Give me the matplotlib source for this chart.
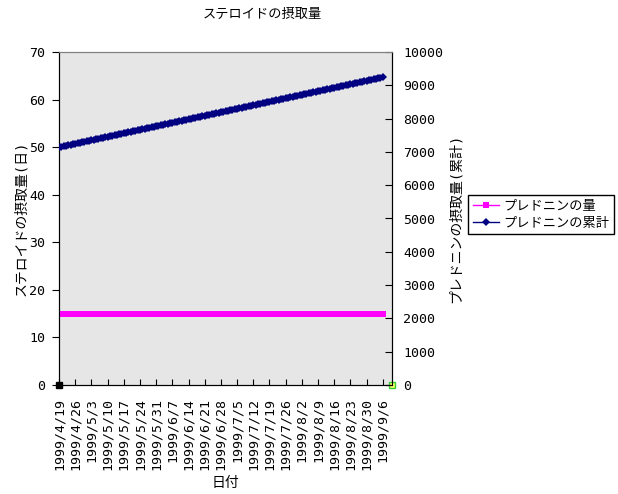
import matplotlib
matplotlib.use("Agg")
import matplotlib.pyplot as plt
from matplotlib.lines import Line2D
import numpy as np
import pandas as pd

plt.rcParams['font.family'] = ['DejaVu Sans Mono', 'Noto Sans CJK JP']

# ---- data ----
dates = pd.date_range('1999-04-19', '1999-09-10', freq='D')      # category axis
date_labels = [f"{d.year}/{d.month}/{d.day}" for d in dates]
daily_amount = [15] * 141                                         # プレドニンの量 (4/19 - 9/6)
cumulative_before = 7125                                          # 累計 before 4/19
cumulative = list(cumulative_before + np.cumsum(daily_amount))    # プレドニンの累計
left_ticks = [0, 10, 20, 30, 40, 50, 60, 70]
right_ticks = [0, 1000, 2000, 3000, 4000, 5000, 6000, 7000, 8000, 9000, 10000]
extra_first = [0]
extra_last = [0]

title = 'ステロイドの摂取量'
xlabel = '日付'
ylabel_left = 'ステロイドの摂取量(日)'
ylabel_right = 'プレドニンの摂取量(累計)'
name_daily = 'プレドニンの量'
name_cum = 'プレドニンの累計'

# ---- figure ----
fig = plt.figure(figsize=(6.18, 4.94), dpi=100)
ax = fig.add_axes([59/618, 1-385/494, (392-59)/618, (385-52)/494])
ax.set_facecolor('#E6E6E6')
ax2 = ax.twinx()

x = np.arange(len(dates))
xd = x[:len(daily_amount)]

ax.plot(xd, daily_amount, color='#FF00FF', marker='s', markersize=4.5,
        linewidth=1, markeredgewidth=0, zorder=3)
ax2.plot(xd, cumulative, color='#000080', marker='D', markersize=4.5,
         linewidth=1, markeredgewidth=0, zorder=3)

ax.plot([x[0]], extra_first, marker='s', color='black', markersize=4, linestyle='none',
        clip_on=False, zorder=5)
ax.plot([x[-1]], extra_last, marker='s', color='#FFFF66', markeredgecolor='#33CC33',
        markersize=5, markeredgewidth=1, linestyle='none', clip_on=False, zorder=5)

ax.set_xlim(0, len(dates) - 1)
ax.set_ylim(0, 70)
ax2.set_ylim(0, 10000)

ax.set_yticks(left_ticks)
ax2.set_yticks(right_ticks)
wk = x[::7]
ax.set_xticks(wk)
ax.set_xticklabels([date_labels[i] for i in wk], rotation=90, fontsize=9.5)

ax.tick_params(axis='y', direction='out', length=5, labelsize=9.5, pad=5)
ax2.tick_params(axis='y', direction='in', length=5, labelsize=9.5, pad=8)
ax.tick_params(axis='x', direction='in', length=4, pad=9)

for a in (ax, ax2):
    a.spines['top'].set_color('#808080')
    a.spines['left'].set_color('black')
    a.spines['right'].set_color('black')
    a.spines['bottom'].set_color('black')

ax.set_ylabel(ylabel_left, fontsize=10, labelpad=1)
ax2.set_ylabel(ylabel_right, fontsize=10, labelpad=4)
ax.set_xlabel(xlabel, fontsize=10, labelpad=5)

fig.text(262/618, 1-14/494, title, ha='center', va='center', fontsize=9.5)

h1 = Line2D([], [], color='#FF00FF', marker='s', markersize=5, linewidth=1, markeredgewidth=0)
h2 = Line2D([], [], color='#000080', marker='D', markersize=4.5, linewidth=1, markeredgewidth=0)
leg = fig.legend([h1, h2], [name_daily, name_cum], loc='upper left',
                 bbox_to_anchor=(468/618, 1-195/494), fontsize=9.5, frameon=True,
                 fancybox=False, edgecolor='black', framealpha=1, borderpad=0.35,
                 labelspacing=0.3, handlelength=2.0, handletextpad=0.3, borderaxespad=0)
leg.get_frame().set_linewidth(1)

fig.savefig('out.png', dpi=100)
